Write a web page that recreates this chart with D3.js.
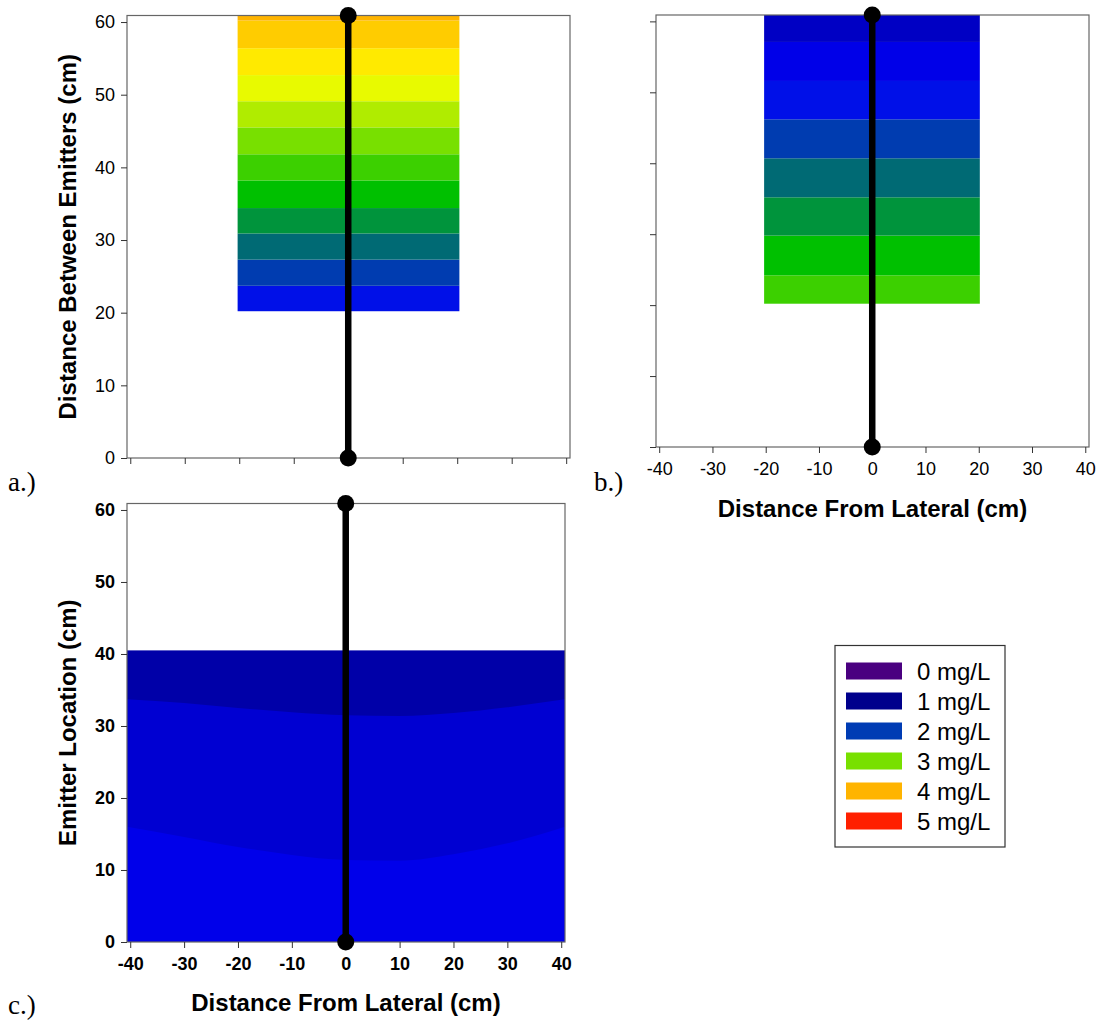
<!DOCTYPE html>
<html><head><meta charset="utf-8">
<script src="https://cdn.jsdelivr.net/npm/d3@7"></script>
<style>
body{margin:0;background:#fff}
svg{display:block}
text{font-family:"Liberation Sans",Arial,sans-serif;fill:#000}
</style>
</head><body>
<svg id="chart" width="1099" height="1023"></svg>
<script>
// ---------------- data ----------------
const xTicks = [-40, -30, -20, -10, 0, 10, 20, 30, 40];
const yTicks = [0, 10, 20, 30, 40, 50, 60];
const xDomain = [-40.6, 40.7];
const yDomain = [0, 60.9];
const emitterX = 0;
const emitterY = [0, 60.9];

// panel a: horizontal concentration bands (bottom -> top)
const aExtent = [-20.3, 20.4];
const aBreaks = [20.2, 23.7, 27.3, 30.9, 34.4, 38.2, 41.8, 45.5, 49.1, 52.7, 56.4, 60.2, 60.9];
const aColors = ["#0010E8", "#003CB0", "#006A74", "#00943C", "#00C000", "#3CD000",
                 "#78E000", "#B0EC00", "#E8FA00", "#FFEA00", "#FFCC00", "#FFB400"];

// panel b
const bExtent = [-20.3, 20.2];
const bBreaks = [20.2, 24.2, 29.8, 35.2, 40.7, 46.2, 51.6, 57.1, 60.9];
const bColors = ["#3CD000", "#00C000", "#00943C", "#006A74", "#003CB0", "#0010E8", "#0000E8", "#0000C4"];

// panel c: contour boundaries across the lateral distance
const cX     = [-40.6, -30, -20, -10, 0, 10, 20, 30, 40.7];
const cUpper = [33.7, 33.2, 32.5, 31.9, 31.5, 31.4, 31.8, 32.6, 33.7];
const cLower = [16.0, 14.6, 13.2, 12.1, 11.4, 11.3, 12.2, 13.7, 16.0];
const cTop = 40.5;
const cColors = ["#0000A8", "#0000D2", "#0000EA"]; // top, middle, bottom

// legend
const legendLabels = ["0 mg/L", "1 mg/L", "2 mg/L", "3 mg/L", "4 mg/L", "5 mg/L"];
const legendColors = ["#4A0080", "#00008C", "#003CB4", "#78E000", "#FFB400", "#FF2000"];

// ---------------- drawing ----------------
const svg = d3.select("#chart");
svg.append("rect").attr("width", 1099).attr("height", 1023).attr("fill", "#fff");
const fmt = d => String(d);

function panel(cfg) {
  const x = d3.scaleLinear().domain(xDomain).range(cfg.xr);
  const y = d3.scaleLinear().domain(yDomain).range(cfg.yr);
  const g = svg.append("g");

  if (cfg.type === "bands") {
    const ext = cfg.extent;
    for (let i = 0; i < cfg.colors.length; i++) {
      g.append("rect")
        .attr("x", x(ext[0]))
        .attr("width", x(ext[1]) - x(ext[0]))
        .attr("y", y(cfg.breaks[i + 1]))
        .attr("height", y(cfg.breaks[i]) - y(cfg.breaks[i + 1]))
        .attr("fill", cfg.colors[i]);
    }
  } else {
    const pts = cX.map((d, i) => ({x: d, u: cUpper[i], l: cLower[i]}));
    g.append("rect")
      .attr("x", x(xDomain[0])).attr("width", x(xDomain[1]) - x(xDomain[0]))
      .attr("y", y(cTop)).attr("height", y(0) - y(cTop))
      .attr("fill", cColors[0]);
    g.append("path").datum(pts)
      .attr("d", d3.area().x(d => x(d.x)).y0(y(0)).y1(d => y(d.u)).curve(d3.curveMonotoneX))
      .attr("fill", cColors[1]);
    g.append("path").datum(pts)
      .attr("d", d3.area().x(d => x(d.x)).y0(y(0)).y1(d => y(d.l)).curve(d3.curveMonotoneX))
      .attr("fill", cColors[2]);
  }

  // frame
  g.append("rect")
    .attr("x", cfg.xr[0]).attr("y", cfg.yr[1])
    .attr("width", cfg.xr[1] - cfg.xr[0]).attr("height", cfg.yr[0] - cfg.yr[1])
    .attr("fill", "none").attr("stroke", "#666").attr("stroke-width", 1.2);

  // axes
  const ya = d3.axisLeft(y).tickValues(yTicks).tickSize(6).tickPadding(6)
    .tickFormat(cfg.yLabels ? fmt : () => "");
  const yg = g.append("g").attr("transform", `translate(${cfg.xr[0]},0)`).call(ya);
  const xa = d3.axisBottom(x).tickValues(xTicks).tickSize(6).tickPadding(9)
    .tickFormat(cfg.xLabels ? fmt : () => "");
  const xg = g.append("g").attr("transform", `translate(0,${cfg.yr[0]})`).call(xa);
  [yg, xg].forEach(a => {
    a.select(".domain").remove();
    a.selectAll(".tick line").attr("stroke", "#333");
    a.selectAll("text").style("font-size", "18px")
      .style("font-weight", cfg.boldTicks ? "bold" : "normal").attr("fill", "#000");
  });

  // emitter line
  g.append("line")
    .attr("x1", x(emitterX)).attr("x2", x(emitterX))
    .attr("y1", y(emitterY[0])).attr("y2", y(emitterY[1]))
    .attr("stroke", "#000").attr("stroke-width", 6.5);
  emitterY.forEach(v => g.append("circle").attr("cx", x(emitterX)).attr("cy", y(v)).attr("r", 8.5).attr("fill", "#000"));

  if (cfg.yTitle) {
    g.append("text")
      .attr("transform", `translate(${cfg.yTitleX},${(cfg.yr[0] + cfg.yr[1]) / 2}) rotate(-90)`)
      .attr("text-anchor", "middle").style("font-size", "24px").style("font-weight", "bold")
      .text(cfg.yTitle);
  }
  if (cfg.xTitle) {
    g.append("text")
      .attr("x", (cfg.xr[0] + cfg.xr[1]) / 2).attr("y", cfg.xTitleY)
      .attr("text-anchor", "middle").style("font-size", "24px").style("font-weight", "bold")
      .text(cfg.xTitle);
  }
  g.append("text").attr("x", cfg.tag[0]).attr("y", cfg.tag[1])
    .style("font-family", "'Liberation Serif','Times New Roman',serif").style("font-size", "27px")
    .text(cfg.tagText);
}

panel({type: "bands", extent: aExtent, breaks: aBreaks, colors: aColors,
  xr: [127, 570], yr: [458, 15.5], yLabels: true, xLabels: false,
  yTitle: "Distance Between Emitters (cm)", yTitleX: 76, tag: [8, 491], tagText: "a.)"});
panel({type: "bands", extent: bExtent, breaks: bBreaks, colors: bColors,
  xr: [656, 1089], yr: [447, 15], yLabels: false, xLabels: true,
  xTitle: "Distance From Lateral (cm)", xTitleY: 517, tag: [594, 491], tagText: "b.)"});
panel({type: "contour",
  xr: [127, 565], yr: [942, 503.5], yLabels: true, xLabels: true, boldTicks: true,
  yTitle: "Emitter Location (cm)", yTitleX: 76,
  xTitle: "Distance From Lateral (cm)", xTitleY: 1011, tag: [8, 1014], tagText: "c.)"});

// legend
const lg = svg.append("g");
lg.append("rect").attr("x", 835).attr("y", 645.5).attr("width", 170).attr("height", 201.5)
  .attr("fill", "#fff").attr("stroke", "#333").attr("stroke-width", 1.2);
const ly = d3.scalePoint().domain(legendLabels).range([671, 821]);
legendLabels.forEach((lab, i) => {
  lg.append("rect").attr("x", 846).attr("y", ly(lab) - 8.5).attr("width", 56).attr("height", 17)
    .attr("fill", legendColors[i]);
  lg.append("text").attr("x", 917).attr("y", ly(lab) + 8.5).style("font-size", "24px").text(lab);
});
</script>
</body></html>
